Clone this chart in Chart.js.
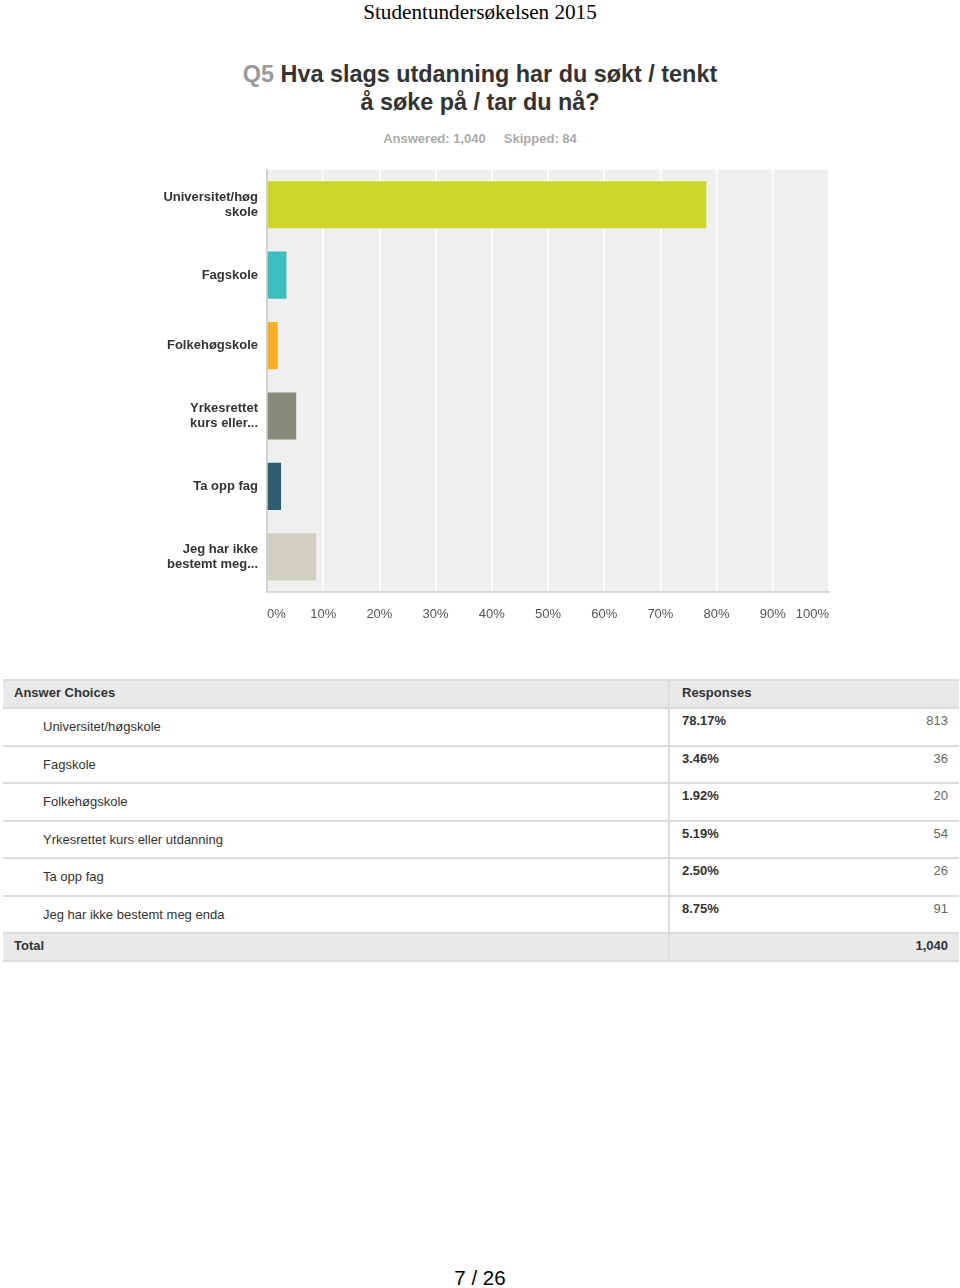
<!DOCTYPE html>
<html><head><meta charset="utf-8">
<script src="https://cdn.jsdelivr.net/npm/chart.js@4/dist/chart.umd.min.js"></script>
<style>
html,body{margin:0;padding:0;background:#fff;width:960px;height:1288px;overflow:hidden;font-family:"Liberation Sans",Arial,sans-serif;}
.abs{position:absolute;}
#hdr{left:0;width:960px;top:1px;text-align:center;font-family:"Liberation Serif","Times New Roman",serif;font-size:21.2px;line-height:22px;color:#000;}
#title{left:0;width:960px;top:60px;text-align:center;font-weight:bold;font-size:23.4px;line-height:28px;color:#333;}
#title .q{color:#999;}
#ans{left:0;width:960px;top:131px;text-align:center;font-weight:bold;font-size:13px;color:#aaa;}
#wrap{left:0;top:146px;width:960px;height:494px;}
.t{position:absolute;font-size:13px;color:#333;line-height:16px;white-space:nowrap;}
.b{font-weight:bold;}
.line{position:absolute;left:3px;width:956px;height:2px;background:#dcdcdc;}
.bg{position:absolute;left:3px;width:956px;background:#e9e9e9;}
#foot{left:0;width:960px;top:1266px;text-align:center;font-size:20.5px;color:#000;}
</style></head><body>
<div id="hdr" class="abs">Studentundersøkelsen 2015</div>
<div id="title" class="abs"><span class="q">Q5</span> Hva slags utdanning har du søkt / tenkt<br>å søke på / tar du nå?</div>
<div id="ans" class="abs">Answered: 1,040&nbsp;&nbsp;&nbsp;&nbsp;&nbsp;Skipped: 84</div>
<div id="wrap" class="abs"><canvas id="c" width="960" height="494"></canvas></div>
<div id="tbl"></div>
<div id="foot" class="abs">7 / 26</div>
<script>
const categories = [["Universitet/høg","skole"],"Fagskole","Folkehøgskole",["Yrkesrettet","kurs eller..."],"Ta opp fag",["Jeg har ikke","bestemt meg..."]];
const fullChoices = ["Universitet/høgskole","Fagskole","Folkehøgskole","Yrkesrettet kurs eller utdanning","Ta opp fag","Jeg har ikke bestemt meg enda"];
const percents = [78.17,3.46,1.92,5.19,2.50,8.75];
const counts = [813,36,20,54,26,91];
const totalLabel = "1,040";
const barColors = ["#cdd52b","#3cbfbe","#f6b026","#898a7a","#2d5e6f","#d1cfc1"];
const xTicks = [0,10,20,30,40,50,60,70,80,90,100];

// table (layout only)
const tbl = document.getElementById('tbl');
let h = '';
const top0 = 679, hdrH = 28, rowH = 37.5;
h += '<div class="bg" style="top:'+top0+'px;height:'+hdrH+'px"></div>';
h += '<div class="line" style="top:'+top0+'px"></div>';
h += '<div class="t b" style="left:14px;top:'+(top0+6)+'px">Answer Choices</div>';
h += '<div class="t b" style="left:682px;top:'+(top0+6)+'px">Responses</div>';
let y = top0 + hdrH;
fullChoices.forEach((c,i)=>{
  h += '<div class="line" style="top:'+y+'px"></div>';
  h += '<div class="t" style="left:43px;top:'+(y+12)+'px">'+c+'</div>';
  h += '<div class="t b" style="left:682px;top:'+(y+6)+'px">'+percents[i].toFixed(2)+'%</div>';
  h += '<div class="t" style="right:12px;top:'+(y+6)+'px;color:#666">'+counts[i]+'</div>';
  y += rowH;
});
h += '<div class="bg" style="top:'+y+'px;height:'+hdrH+'px"></div>';
h += '<div class="line" style="top:'+y+'px"></div>';
h += '<div class="t b" style="left:14px;top:'+(y+6)+'px">Total</div>';
h += '<div class="t b" style="right:12px;top:'+(y+6)+'px">'+totalLabel+'</div>';
h += '<div class="line" style="top:'+(y+hdrH)+'px"></div>';
h += '<div style="position:absolute;left:668px;top:'+top0+'px;width:2px;height:'+(y+hdrH-top0)+'px;background:#dcdcdc"></div>';
tbl.innerHTML = h;

const bgPlugin = {
  id:'bg',
  beforeDraw(chart){
    const a = chart.chartArea, ctx = chart.ctx;
    ctx.save(); ctx.fillStyle='#efefef'; ctx.fillRect(a.left,a.top,a.right-a.left,a.bottom-a.top); ctx.restore();
  }
};

new Chart(document.getElementById('c'), {
  type:'bar',
  data:{labels:categories, datasets:[{data:percents, backgroundColor:barColors, borderWidth:0, categoryPercentage:1, barPercentage:0.67}]},
  options:{
    indexAxis:'y', responsive:false, animation:false,
    layout:{padding:{top:10,right:131,left:0,bottom:0}},
    plugins:{legend:{display:false},tooltip:{enabled:false}},
    scales:{
      x:{min:0,max:100,
        afterBuildTicks(s){ s.ticks = xTicks.map(v=>({value:v})); },
        afterFit(s){ s.height = 48; },
        ticks:{callback:v=>v+'%', align:'inner', padding:15, color:'#555', font:{family:'"Liberation Sans", Arial, sans-serif', size:13}, maxRotation:0, autoSkip:false},
        grid:{color:'#ffffff', lineWidth:1.5, drawTicks:false},
        border:{color:'#d8d8d8', width:2}
      },
      y:{
        afterFit(s){ s.width = 267; },
        ticks:{padding:9, color:'#333', font:{family:'"Liberation Sans", Arial, sans-serif', size:13, weight:'bold', lineHeight:1.12}},
        grid:{display:false, drawTicks:false},
        border:{color:'#d2d2d2', width:2}
      }
    }
  },
  plugins:[bgPlugin]
});
</script>
</body></html>
